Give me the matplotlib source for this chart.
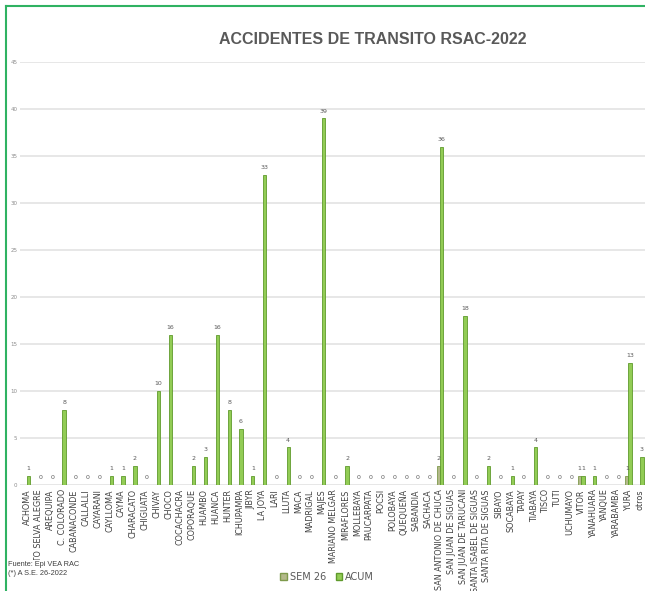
import matplotlib
matplotlib.use('Agg')
import numpy as np
import matplotlib.pyplot as plt
from matplotlib.lines import Line2D
from matplotlib.patches import Patch

# Data
distritos = ['ACHOMA', 'ALTO SELVA ALEGRE', 'AREQUIPA', 'C. COLORADO', 'CABANACONDE',
             'CALLALLI', 'CAYARANI', 'CAYLLOMA', 'CAYMA', 'CHARACATO', 'CHIGUATA',
             'CHIVAY', 'CHOCO', 'COCACHACRA', 'COPORAQUE', 'HUAMBO', 'HUANCA', 'HUNTER',
             'ICHUPAMPA', 'JIBYR', 'LA JOYA', 'LARI', 'LLUTA', 'MACA', 'MADRIGAL', 'MAJES',
             'MARIANO MELGAR', 'MIRAFLORES', 'MOLLEBAYA', 'PAUCARPATA', 'POCSI', 'POLOBAYA',
             'QUEQUEÑA', 'SABANDIA', 'SACHACA', 'SAN ANTONIO DE CHUCA', 'SAN JUAN DE SIGUAS',
             'SAN JUAN DE TARUCANI', 'SANTA ISABEL DE SIGUAS', 'SANTA RITA DE SIGUAS',
             'SIBAYO', 'SOCABAYA', 'TAPAY', 'TIABAYA', 'TISCO', 'TUTI', 'UCHUMAYO', 'VITOR',
             'YANAHUARA', 'YANQUE', 'YARABAMBA', 'YURA', 'otros']

acum = [1, 0, 0, 8, 0, 0, 0, 1, 1, 2, 0, 10, 16, np.nan, 2, 3, 16, 8, 6, 1, 33, 0, 4, 0, 0, 39,
        0, 2, 0, 0, 0, 0, 0, 0, 0, 36, 0, 18, 0, 2, 0, 1, 0, 4, 0, 0, 0, 1, 1, 0, 0, 13, 3]

sem26 = [0, 0, 0, 0, 0, 0, 0, 0, 0, 0, 0, 0, 0, 0, 0, 0, 0, 0, 0, 0, 0, 0, 0, 0, 0, 0,
         0, 0, 0, 0, 0, 0, 0, 0, 0, 2, 0, 0, 0, 0, 0, 0, 0, 0, 0, 0, 0, 1, 0, 0, 0, 1, 0]

yticks = list(range(0, 50, 5))

fig = plt.figure(figsize=(6.45, 5.91), dpi=100)
ax = fig.add_axes([20/645, 1 - 485/591, 625/645, (485 - 62)/591])

x = np.arange(len(distritos))
w = 0.28
acum_arr = np.array(acum, dtype=float)
sem_arr = np.array(sem26, dtype=float)

ax.bar(x - w/2, sem_arr, w, color='#b3b98a', edgecolor='#7e9a4c', linewidth=0.6, zorder=3)
ax.bar(x + w/2, acum_arr, w, color='#92cc55', edgecolor='#5f9a2c', linewidth=0.6, zorder=3)

# data labels
for i in range(len(distritos)):
    if sem_arr[i] > 0:
        ax.text(x[i] - w/2, sem_arr[i] + 0.5, '%d' % sem_arr[i], ha='center', va='bottom',
                fontsize=4.5, color='#595959')
    if not np.isnan(acum_arr[i]):
        ax.text(x[i] + w/2, acum_arr[i] + 0.5, '%d' % acum_arr[i], ha='center', va='bottom',
                fontsize=4.5, color='#595959')

ax.set_ylim(0, 45)
ax.set_xlim(-0.6, len(distritos) - 0.6)
ax.set_yticks(yticks)
ax.set_yticklabels([str(t) for t in yticks], fontsize=4, color='#8c8c8c')
ax.yaxis.grid(True, color='#e3e3e3', linewidth=1.2, zorder=0)
ax.set_axisbelow(True)
ax.set_xticks(x)
ax.set_xticklabels(distritos, rotation=90, fontsize=5.8, color='#404040')
ax.tick_params(axis='both', length=0, pad=3)
ax.tick_params(axis='y', pad=2)
for s in ax.spines.values():
    s.set_visible(False)

fig.text(373/645, 1 - 40/591, 'ACCIDENTES DE TRANSITO RSAC-2022', ha='center', va='center',
         fontsize=11.5, fontweight='bold', color='#595959',
         family=['Liberation Sans', 'DejaVu Sans'])

fig.text(8/645, 1 - 569/591, 'Fuente: Epi VEA RAC\n(*) A S.E. 26-2022', ha='left', va='center',
         fontsize=5.3, color='#404040', linespacing=1.4,
         family=['Liberation Sans', 'DejaVu Sans'],
         bbox=dict(facecolor='white', edgecolor='none', pad=0.5))

handles = [Patch(facecolor='#b3b98a', edgecolor='#7e9a4c'),
           Patch(facecolor='#92cc55', edgecolor='#5f9a2c')]
fig.legend(handles, ['SEM 26', 'ACUM'], loc='center', bbox_to_anchor=(327/645, 1 - 577/591),
           ncol=2, frameon=False, fontsize=7, handlelength=0.7, handleheight=0.7,
           handletextpad=0.3, columnspacing=1.0, labelcolor='#595959')

# green frame along top and left
fig.add_artist(Line2D([5.5/645, 1], [1 - 5.5/591, 1 - 5.5/591], color='#2fb262', linewidth=1.5))
fig.add_artist(Line2D([5.5/645, 5.5/645], [0, 1 - 5.5/591], color='#2fb262', linewidth=1.5))

fig.savefig('out.png', dpi=100)
